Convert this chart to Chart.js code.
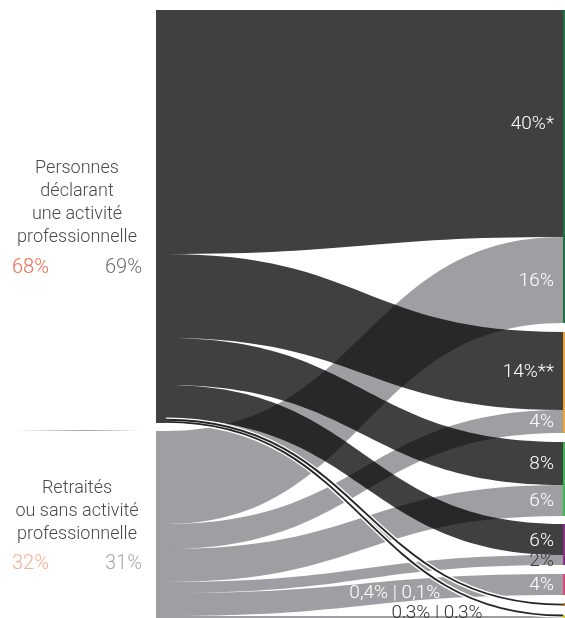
<!DOCTYPE html>
<html><head><meta charset="utf-8">
<script src="https://cdn.jsdelivr.net/npm/chart.js@4.4.0/dist/chart.umd.min.js"></script>
<style>html,body{margin:0;padding:0;background:#fff;overflow:hidden}#wrap{width:565px;height:618px;position:relative}</style>
</head><body><div id="wrap"><canvas id="c" width="565" height="618"></canvas></div>
<script>
// ---- data ----
const sourceNames = [['Personnes', 'déclarant', 'une activité', 'professionnelle'], ['Retraités', 'ou sans activité', 'professionnelle']];
const sourceShareFirst = ['68%', '32%'];
const sourceShareSecond = ['69%', '31%'];
const targetNames = ['Catégorie 1', 'Catégorie 2', 'Catégorie 3', 'Catégorie 4', 'Catégorie 5', 'Catégorie 6', 'Catégorie 7'];
const activeValues = [40.7, 14.0, 7.8, 5.6, 0, 0.4, 0.3];
const retiredValues = [15.5, 4.2, 5.5, 1.8, 3.8, 0.1, 0.3];
const activeLabels = ['40%*', '14%**', '8%', '6%', '', '', ''];
const retiredLabels = ['16%', '4%', '6%', '2%', '4%', '', ''];
const pairLabels = ['', '', '', '', '', '0,4% | 0,1%', '0,3% | 0,3%'];
const targetColors = ['#1d7440', '#f0a535', '#3cb94c', '#8d2c8f', '#e6447c', '#b8752e', '#d6d21c'];

// ---- layout constants ----
const GAP_L = 1.34, GAP_R = 1.506;
const NODE_W = 2.44, FLOW_END = 99.5, LABEL_X = 97.3;
const DARK = 'rgba(0,0,0,0.75)', LIGHT = 'rgba(0,0,10,0.375)';
const FONT = '300 18px Roboto';
const FONT_R = '300 19px Roboto';
const sum = a => a.reduce((s, v) => s + v, 0);
const TOTAL = sum(activeValues) + sum(retiredValues);

const sankeyPlugin = {
  id: 'sankeyFlows',
  afterDatasetsDraw(chart) {
    const { ctx, scales: { x, yL, yR } } = chart;
    const pL = v => Math.round(yL.getPixelForValue(v));
    const pR = v => Math.round(yR.getPixelForValue(v));
    const n = targetNames.length;
    let c = 0; const lA = [], lR = [];
    for (let i = 0; i < n; i++) { lA.push([c, c + activeValues[i]]); c += activeValues[i]; }
    const activeEnd = c; c += GAP_L; const retiredStart = c;
    for (let i = 0; i < n; i++) { lR.push([c, c + retiredValues[i]]); c += retiredValues[i]; }
    const retiredEnd = c;
    c = 0; const rA = [], rR = [], node = [];
    for (let i = 0; i < n; i++) {
      const s = c;
      rA.push([c, c + activeValues[i]]); c += activeValues[i];
      rR.push([c, c + retiredValues[i]]); c += retiredValues[i];
      node.push([s, c]); c += GAP_R;
    }
    const x0 = x.getPixelForValue(0);
    const xs = Math.round(x.getPixelForValue(NODE_W));
    const xe = Math.round(x.getPixelForValue(FLOW_END));
    const xr = x.getPixelForValue(100);
    const xm = (xs + xe) / 2;
    ctx.save();
    ctx.fillStyle = DARK;
    ctx.fillRect(x0, pL(0), xs - x0, pL(activeEnd) - pL(0));
    ctx.fillStyle = LIGHT;
    ctx.fillRect(x0, pL(retiredStart), xs - x0, pL(retiredEnd) - pL(retiredStart));
    const band = (a, b, color) => {
      const y0t = pL(a[0]), y0b = pL(a[1]), y1t = pR(b[0]), y1b = pR(b[1]);
      ctx.beginPath();
      ctx.moveTo(xs, y0t);
      ctx.bezierCurveTo(xm, y0t, xm, y1t, xe, y1t);
      ctx.lineTo(xe, y1b);
      ctx.bezierCurveTo(xm, y1b, xm, y0b, xs, y0b);
      ctx.closePath();
      ctx.fillStyle = color; ctx.fill();
    };
    for (let i = 0; i < n; i++) if (retiredValues[i] > 0) band(lR[i], rR[i], LIGHT);
    for (let i = 0; i < n; i++) if (activeValues[i] >= 1) band(lA[i], rA[i], DARK);
    const thin = [];
    for (let i = 0; i < n; i++) if (activeValues[i] > 0 && activeValues[i] < 1) thin.push(i);
    const line = (i) => {
      const yl = (yL.getPixelForValue(lA[i][0]) + yL.getPixelForValue(lA[i][1])) / 2;
      const yr = (yR.getPixelForValue(rA[i][0]) + yR.getPixelForValue(rA[i][1])) / 2;
      ctx.beginPath(); ctx.moveTo(xs, yl); ctx.bezierCurveTo(xm, yl, xm, yr, xe, yr);
    };
    thin.forEach(i => { line(i); ctx.strokeStyle = '#ffffff'; ctx.lineWidth = 4.6; ctx.stroke(); });
    thin.forEach(i => { line(i); ctx.strokeStyle = '#262626'; ctx.lineWidth = 1.9; ctx.stroke(); });
    for (let i = 0; i < n; i++) {
      ctx.fillStyle = targetColors[i];
      const t = pR(node[i][0]), b = pR(node[i][1]);
      ctx.fillRect(xe, t, xr - xe, Math.max(1, b - t));
    }
    ctx.font = FONT_R;
    ctx.textBaseline = 'middle';
    ctx.textAlign = 'right';
    const lx = x.getPixelForValue(LABEL_X);
    for (let i = 0; i < n; i++) {
      if (activeLabels[i]) { ctx.fillStyle = '#ffffff'; ctx.fillText(activeLabels[i], lx, (yR.getPixelForValue(rA[i][0]) + yR.getPixelForValue(rA[i][1])) / 2 + 1); }
      if (retiredLabels[i]) {
        const h = yR.getPixelForValue(rR[i][1]) - yR.getPixelForValue(rR[i][0]);
        ctx.fillStyle = h < 16 ? '#3a3a3a' : '#ffffff';
        ctx.fillText(retiredLabels[i], lx, (yR.getPixelForValue(rR[i][0]) + yR.getPixelForValue(rR[i][1])) / 2 + 1);
      }
    }
    ctx.textAlign = 'center';
    const pairIdx = [];
    for (let i = 0; i < n; i++) if (pairLabels[i]) pairIdx.push(i);
    pairIdx.forEach((i, k) => {
      const yc = (yR.getPixelForValue(node[i][0]) + yR.getPixelForValue(node[i][1])) / 2;
      if (k === 0) { ctx.fillStyle = '#ffffff'; ctx.fillText(pairLabels[i], x.getPixelForValue(58.4), yc - 12); }
      else { ctx.fillStyle = '#333333'; ctx.fillText(pairLabels[i], x.getPixelForValue(68.7), yc - 3); }
    });
    const colFirst = ['#f26b4f', '#f8b092'];
    const colSecond = ['#6b6b6b', '#a6a6a6'];
    const spans = [[0, activeEnd], [retiredStart, retiredEnd]];
    spans.forEach((sp, k) => {
      const yc = (yL.getPixelForValue(sp[0]) + yL.getPixelForValue(sp[1])) / 2;
      const lines = sourceNames[k];
      const first = yc + 2 - ((lines.length - 1) * 23 + 30) / 2;
      ctx.font = FONT;
      ctx.fillStyle = '#4a4a4a'; ctx.textAlign = 'center';
      lines.forEach((t, j) => ctx.fillText(t, 77, first + j * 23));
      const py = first + (lines.length - 1) * 23 + 30;
      ctx.font = '300 20px Roboto';
      ctx.textAlign = 'left'; ctx.fillStyle = colFirst[k]; ctx.fillText(sourceShareFirst[k], 12, py);
      ctx.textAlign = 'right'; ctx.fillStyle = colSecond[k]; ctx.fillText(sourceShareSecond[k], 142, py);
    });
    const sy = Math.round((yL.getPixelForValue(activeEnd) + yL.getPixelForValue(retiredStart)) / 2) + 3.5;
    const g = ctx.createLinearGradient(13, 0, 140, 0);
    g.addColorStop(0, 'rgba(160,160,160,0)');
    g.addColorStop(0.6, 'rgba(160,160,160,1)');
    g.addColorStop(1, 'rgba(160,160,160,0)');
    ctx.strokeStyle = g; ctx.lineWidth = 1;
    ctx.beginPath(); ctx.moveTo(13, sy); ctx.lineTo(140, sy); ctx.stroke();
    ctx.restore();
  }
};

new Chart(document.getElementById('c'), {
  type: 'scatter',
  data: { datasets: [{ data: [], yAxisID: 'yL', xAxisID: 'x' }] },
  options: {
    responsive: false, animation: false, devicePixelRatio: 1,
    layout: { padding: { left: 156, top: 10, right: 0, bottom: 0 } },
    scales: {
      x: { type: 'linear', min: 0, max: 100, display: false },
      yL: { type: 'linear', axis: 'y', min: 0, max: TOTAL + GAP_L, reverse: true, display: false },
      yR: { type: 'linear', axis: 'y', min: 0, max: TOTAL + (targetNames.length - 1) * GAP_R, reverse: true, display: false }
    },
    plugins: { legend: { display: false }, tooltip: { enabled: false } }
  },
  plugins: [sankeyPlugin]
});
</script></body></html>
